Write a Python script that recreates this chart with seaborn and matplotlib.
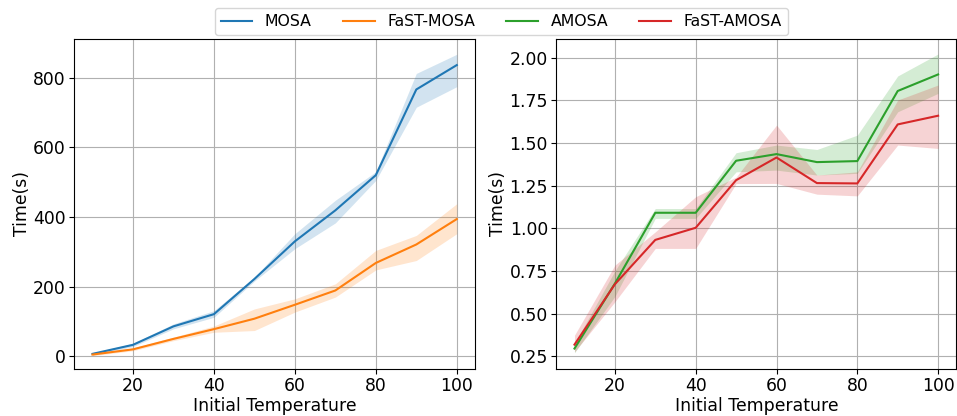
import numpy as np
import pandas as pd
import matplotlib
matplotlib.use("Agg")
import matplotlib.pyplot as plt
import seaborn as sns

temps = [10, 20, 30, 40, 50, 60, 70, 80, 90, 100]

mosa = [7, 33, 86, 121, 222, 330, 419, 520, 766, 836]
mosa_lo = [4, 28, 79, 112, 216, 309, 383, 505, 715, 774]
mosa_hi = [10, 37, 93, 131, 227, 352, 448, 530, 812, 867]

fast_mosa = [5, 20, 50, 78, 108, 148, 189, 268, 321, 394]
fast_mosa_lo = [2, 16, 45, 69, 74, 127, 170, 248, 275, 352]
fast_mosa_hi = [7, 24, 55, 87, 136, 165, 208, 304, 347, 438]

amosa = [0.295, 0.676, 1.091, 1.091, 1.396, 1.435, 1.388, 1.394, 1.805, 1.902]
amosa_lo = [0.27, 0.60, 1.058, 1.058, 1.331, 1.341, 1.312, 1.322, 1.683, 1.791]
amosa_hi = [0.324, 0.75, 1.116, 1.116, 1.443, 1.488, 1.462, 1.546, 1.893, 2.022]

fast_amosa = [0.318, 0.672, 0.932, 1.003, 1.282, 1.415, 1.265, 1.263, 1.609, 1.66]
fast_amosa_lo = [0.275, 0.569, 0.882, 0.882, 1.262, 1.263, 1.20, 1.19, 1.488, 1.468]
fast_amosa_hi = [0.373, 0.784, 0.979, 1.185, 1.30, 1.605, 1.312, 1.331, 1.752, 1.84]

colors = {"MOSA": "#1f77b4", "FaST-MOSA": "#ff7f0e", "AMOSA": "#2ca02c", "FaST-AMOSA": "#d62728"}

plt.rcParams["font.family"] = ["DejaVu Sans"]
fig = plt.figure(figsize=(9.57, 4.16), dpi=100)
W, H = 957, 416
ax1 = fig.add_axes([74.3 / W, (H - 368.5) / H, 400.7 / W, 329.2 / H])
ax2 = fig.add_axes([556.3 / W, (H - 368.5) / H, 400.0 / W, 329.2 / H])

FS = 12.4

def draw(ax, series):
    for name, y, lo, hi in series:
        df = pd.DataFrame({"x": temps, "y": y})
        sns.lineplot(data=df, x="x", y="y", ax=ax, color=colors[name], label=name, linewidth=1.5)
        ax.fill_between(temps, lo, hi, color=colors[name], alpha=0.2, linewidth=0)
    ax.grid(True, color="#b0b0b0", linewidth=0.8)
    ax.set_axisbelow(True)
    ax.set_xlabel("Initial Temperature", fontsize=FS, labelpad=1.5)
    ax.set_ylabel("Time(s)", fontsize=FS, labelpad=1.5)
    ax.tick_params(labelsize=FS, pad=2.5)
    ax.set_xlim(5.5, 104.5)
    ax.set_xticks([20, 40, 60, 80, 100])
    leg = ax.get_legend()
    if leg:
        leg.remove()

draw(ax1, [("MOSA", mosa, mosa_lo, mosa_hi), ("FaST-MOSA", fast_mosa, fast_mosa_lo, fast_mosa_hi)])
draw(ax2, [("AMOSA", amosa, amosa_lo, amosa_hi), ("FaST-AMOSA", fast_amosa, fast_amosa_lo, fast_amosa_hi)])
ax1.set_ylim(-35, 910)
ax1.set_yticks([0, 200, 400, 600, 800])
ax2.set_ylim(0.178, 2.108)
ax2.set_yticks([0.25, 0.5, 0.75, 1.0, 1.25, 1.5, 1.75, 2.0])

h1, l1 = ax1.get_legend_handles_labels()
h2, l2 = ax2.get_legend_handles_labels()
fig.legend(h1 + h2, l1 + l2, loc="upper center", ncol=4, fontsize=11.3,
           bbox_to_anchor=(501.3 / W, 1.0), frameon=True)

fig.savefig("out.png", dpi=100)
